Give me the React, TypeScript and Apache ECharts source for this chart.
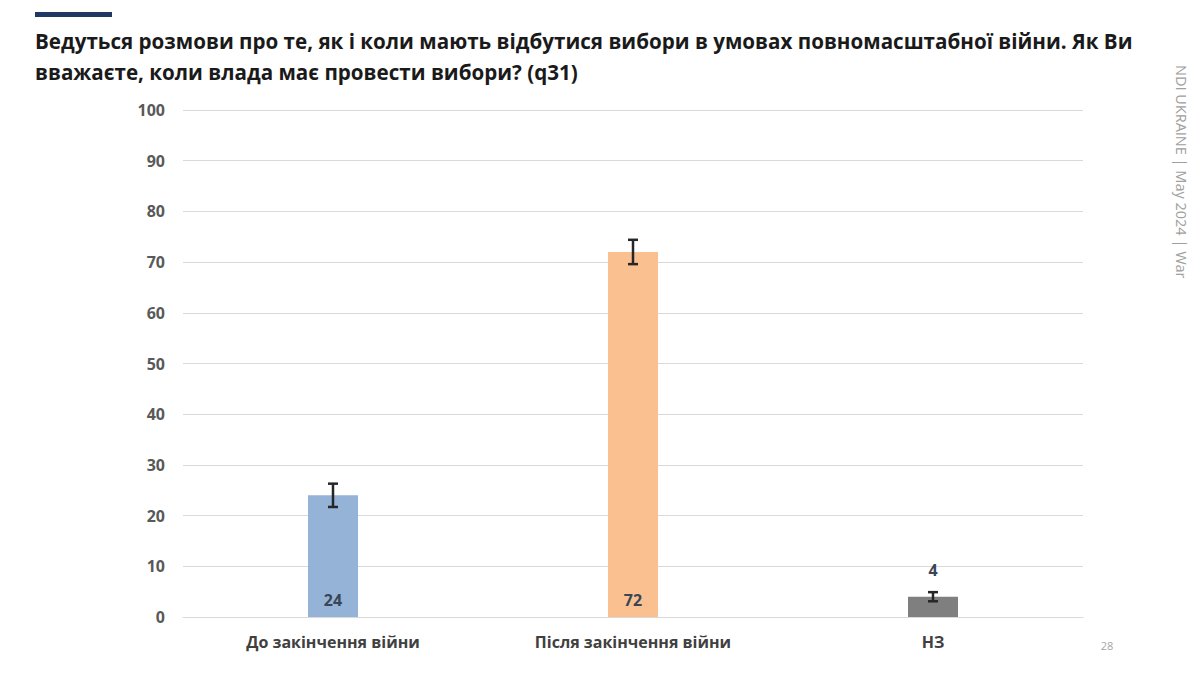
import React, { useEffect, useRef } from "react";
import * as echarts from "echarts";

const categories = ["До закінчення війни", "Після закінчення війни", "НЗ"];
const values = [24, 72, 4];
const errLow = [21.7, 69.6, 3.1];
const errHigh = [26.3, 74.4, 4.9];
const barColors = ["#95B3D7", "#FAC090", "#7F7F7F"];
const yTicks = { min: 0, max: 100, interval: 10 };
const titleLines = [
  "Ведуться розмови про те, як і коли мають відбутися вибори в умовах повномасштабної війни. Як Ви",
  "вважаєте, коли влада має провести вибори? (q31)",
];
const sideNote = "NDI UKRAINE | May 2024 | War";
const pageNumber = "28";

const FONT = "'Open Sans', 'Noto Sans', sans-serif";

export default function App() {
  const ref = useRef<HTMLDivElement>(null);
  useEffect(() => {
    if (!ref.current) return;
    const chart = echarts.init(ref.current, null, { renderer: "svg" });
    const option: any = {
      animation: false,
      backgroundColor: "#ffffff",
      textStyle: { fontFamily: FONT },
      grid: { left: 183, right: 117, top: 110, bottom: 58, containLabel: false },
      graphic: [
        { type: "rect", left: 35, top: 12, shape: { width: 77, height: 5 }, style: { fill: "#1F3864" } },
        {
          type: "text",
          left: 35,
          top: 25,
          style: {
            text: titleLines.join("\n"),
            font: `bold 20.6px ${FONT}`,
            fill: "#1a1a1a",
            lineHeight: 31,
          },
        },
        {
          type: "text",
          x: 1181,
          y: 65,
          rotation: -Math.PI / 2,
          style: {
            text: sideNote,
            font: `14.5px ${FONT}`,
            fill: "#A0A0A0",
            textAlign: "left",
            textVerticalAlign: "middle",
          },
        },
        {
          type: "text",
          x: 1107,
          y: 645,
          style: {
            text: pageNumber,
            font: `11px ${FONT}`,
            fill: "#A6A6A6",
            textAlign: "center",
            textVerticalAlign: "middle",
          },
        },
      ],
      xAxis: {
        type: "category",
        data: categories,
        axisTick: { show: false },
        axisLine: { lineStyle: { color: "#D9D9D9", width: 1 } },
        axisLabel: { color: "#404040", fontWeight: "bold", fontSize: 16, margin: 17, fontFamily: FONT },
      },
      yAxis: {
        type: "value",
        min: yTicks.min,
        max: yTicks.max,
        interval: yTicks.interval,
        axisLine: { show: false },
        axisTick: { show: false },
        splitLine: { lineStyle: { color: "#D9D9D9", width: 1 } },
        axisLabel: { color: "#595959", fontWeight: "bold", fontSize: 16, margin: 18, fontFamily: FONT },
      },
      series: [
        {
          type: "bar",
          barWidth: 50,
          data: values.map((v, i) => ({
            value: v,
            itemStyle: { color: barColors[i] },
            label:
              i < 2
                ? { show: true, position: "insideBottom", distance: 9 }
                : { show: true, position: "top", distance: 19 },
          })),
          label: { color: "#3A4556", fontWeight: "bold", fontSize: 16, fontFamily: FONT },
        },
        {
          type: "custom",
          z: 10,
          data: values.map((_, i) => [i, errLow[i], errHigh[i]]),
          renderItem: (params: any, api: any) => {
            const x = api.value(0);
            const lo = api.coord([x, api.value(1)]);
            const hi = api.coord([x, api.value(2)]);
            const cx = lo[0];
            const hw = 5;
            const style = { stroke: "#262626", lineWidth: 2.5 };
            return {
              type: "group",
              children: [
                { type: "line", shape: { x1: cx, y1: hi[1], x2: cx, y2: lo[1] }, style },
                { type: "line", shape: { x1: cx - hw, y1: hi[1], x2: cx + hw, y2: hi[1] }, style },
                { type: "line", shape: { x1: cx - hw, y1: lo[1], x2: cx + hw, y2: lo[1] }, style },
              ],
            };
          },
        },
      ],
    };
    chart.setOption(option);
    return () => chart.dispose();
  }, []);
  return (
    <div
      ref={ref}
      style={{ position: "fixed", left: 0, top: 0, width: 1200, height: 675, background: "#fff" }}
    />
  );
}
